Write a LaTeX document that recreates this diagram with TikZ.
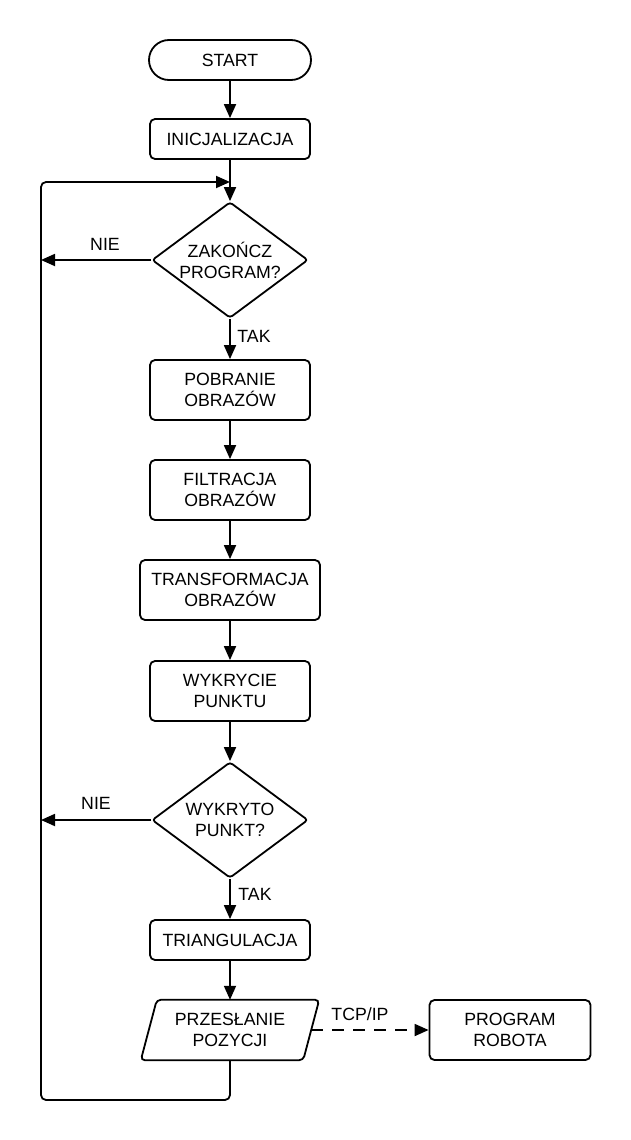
\documentclass[tikz,border=0pt]{standalone}
\usepackage{fontspec}
\setmainfont{Liberation Sans}
\usetikzlibrary{arrows.meta,shapes.geometric}
\begin{document}
\begin{tikzpicture}[x=1pt,y=-1pt,
  every node/.style={font=\fontsize{17.7}{21}\selectfont, align=center, inner sep=0pt},
  ln/.style={line width=1.8pt, draw=black},
  arr/.style={ln, -{Triangle[length=14pt,width=12pt]}},
  procbox/.style={ln, draw, rounded corners=5pt, minimum width=160pt, minimum height=#1},
  procbox/.default=60pt,
  decbox/.style={ln, draw, diamond, rounded corners=3pt, minimum width=156pt, minimum height=116pt},
  lbl/.style={}
]
\useasboundingbox (0,0) rectangle (630,1140);

\node[ln, draw, rounded corners=20pt, minimum width=162pt, minimum height=40pt] (start) at (230,60) {START};
\node[procbox=40pt] (init) at (230,139) {INICJALIZACJA};
\node[decbox] (d1) at (230,260) {};
\node (d1t) at (d1.center) {ZAKOŃCZ\\PROGRAM?};
\node[procbox] (pob) at (230,390) {POBRANIE\\OBRAZÓW};
\node[procbox] (fil) at (230,490) {FILTRACJA\\OBRAZÓW};
\node[procbox, minimum width=180pt] (tra) at (230,590) {TRANSFORMACJA\\OBRAZÓW};
\node[procbox] (wyk) at (230,691) {WYKRYCIE\\PUNKTU};
\node[decbox] (d2) at (230,820) {};
\node (d2t) at (d2.center) {WYKRYTO\\PUNKT?};
\node[procbox=40pt] (tri) at (230,940) {TRIANGULACJA};
\node[minimum width=162pt, minimum height=60pt] (prz) at (230,1030) {PRZESŁANIE\\POZYCJI};
\draw[ln, rounded corners=4pt] ([xshift=8pt]prz.north west) -- ([xshift=8pt]prz.north east) -- ([xshift=-8pt]prz.south east) -- ([xshift=-8pt]prz.south west) -- cycle;
\node[procbox, minimum width=161pt] (rob) at (510,1030) {PROGRAM\\ROBOTA};

\coordinate (j1) at (230,182);
\coordinate (lt) at (41,182);
\coordinate (lb) at (41,1100);
\coordinate (cb) at (230,1100);
\coordinate (n1) at (41,260);
\coordinate (n2) at (41,820);

\draw[arr] (start) -- (init);
\draw[arr] (init) -- (d1.north);
\draw[arr] (d1.south) -- (pob);
\draw[arr] (pob) -- (fil);
\draw[arr] (fil) -- (tra);
\draw[arr] (tra) -- (wyk);
\draw[arr] (wyk) -- (d2.north);
\draw[arr] (d2.south) -- (tri);
\draw[arr] (tri) -- (prz);
\draw[arr] (d1.west) -- (n1);
\draw[arr] (d2.west) -- (n2);
\draw[arr, dash pattern=on 12pt off 9pt] (prz.east) -- (rob.west);
\draw[arr, rounded corners=5pt] (prz.south) -- (cb) -- (lb) -- (lt) -- (j1);

\node (nie1) at (105,244) {NIE};
\node (tak1) at (254,336) {TAK};
\node (nie2) at (96,803) {NIE};
\node (tak2) at (255,894) {TAK};
\node (tcp) at (360,1014) {TCP/IP};
\end{tikzpicture}
\end{document}
